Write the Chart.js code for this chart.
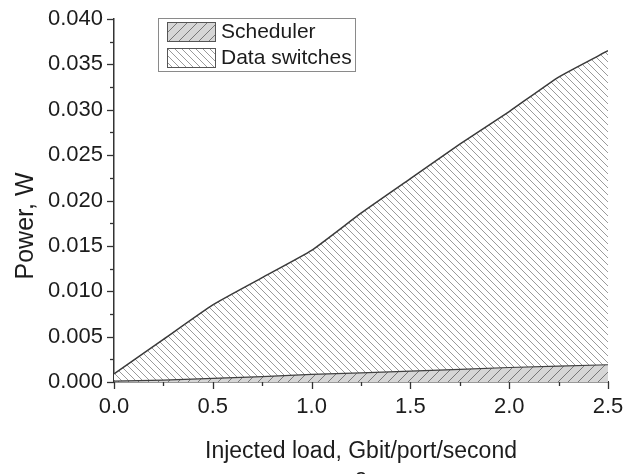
<!DOCTYPE html>
<html>
<head>
<meta charset="utf-8">
<script src="https://cdn.jsdelivr.net/npm/chart.js@4.4.1/dist/chart.umd.min.js"></script>
<style>
  html, body { margin: 0; padding: 0; background: #ffffff; }
  #wrap { width: 637px; height: 474px; }
</style>
</head>
<body>
<div id="wrap"><canvas id="chart" width="637" height="474"></canvas></div>
<script>
// Injected load (Gbit/port/second)
const loads = [0, 0.25, 0.5, 0.75, 1.0, 1.25, 1.5, 1.75, 2.0, 2.25, 2.5];
// Power drawn by the scheduler (W)
const schedulerPower = [0.0001, 0.0002, 0.0004, 0.0006, 0.00085, 0.0010, 0.0012, 0.0014, 0.0016, 0.00175, 0.0019];
// Power drawn by the data switches (W), stacked on top of the scheduler
const switchesPower = [0.0008, 0.0045, 0.0081, 0.0109, 0.01365, 0.0176, 0.0212, 0.0248, 0.0282, 0.03185, 0.0346];
const seriesNames = ['Scheduler', 'Data switches'];
const axisTitles = { x: 'Injected load, Gbit/port/second', y: 'Power, W' };

const FAMILY = '"Liberation Sans", Arial, Helvetica, sans-serif';
const INK = '#1c1c1c';

// Diagonal hatch tile: dir '/' or '\\'
function hatch(bg, fg, size, dir, lw) {
  const c = document.createElement('canvas');
  c.width = size; c.height = size;
  const g = c.getContext('2d');
  g.fillStyle = bg;
  g.fillRect(0, 0, size, size);
  g.strokeStyle = fg;
  g.lineWidth = lw;
  g.beginPath();
  for (const k of [-1, 0, 1]) {
    if (dir === '/') {
      g.moveTo(k * size, size); g.lineTo(k * size + size, 0);
    } else {
      g.moveTo(k * size, 0); g.lineTo(k * size + size, size);
    }
  }
  g.stroke();
  return g.createPattern(c, 'repeat');
}

const ctx = document.getElementById('chart').getContext('2d');
const schedulerFill = hatch('#d6d6d6', '#777777', 10, '/', 1);
const switchesFill = hatch('#ffffff', '#9a9a9a', 7, '\\', 1);

// Tick marks: long for labelled ticks, short for the unlabelled ones
const tickMarks = {
  id: 'tickMarks',
  afterDraw(chart) {
    const g = chart.ctx;
    g.save();
    g.strokeStyle = '#333';
    g.lineWidth = 1.3;
    const xs = chart.scales.x, ys = chart.scales.y;
    xs.ticks.forEach((t, i) => {
      const px = Math.round(xs.getPixelForValue(t.value)) + 0.5;
      const len = i % 2 === 0 ? 7 : 4;
      g.beginPath(); g.moveTo(px, xs.top); g.lineTo(px, xs.top + len); g.stroke();
    });
    ys.ticks.forEach((t, i) => {
      const py = Math.round(ys.getPixelForValue(t.value)) + 0.5;
      const len = i % 2 === 0 ? 7 : 4;
      g.beginPath(); g.moveTo(ys.right, py); g.lineTo(ys.right - len, py); g.stroke();
    });
    g.restore();
  }
};

// Vertical axis title, set a little below the middle of the axis
const yTitle = {
  id: 'yTitle',
  afterDraw(chart) {
    const g = chart.ctx;
    g.save();
    g.translate(26, 226);
    g.rotate(-Math.PI / 2);
    g.font = '25px ' + FAMILY;
    g.fillStyle = INK;
    g.textAlign = 'center';
    g.textBaseline = 'middle';
    g.fillText(axisTitles.y, 0, 0);
    g.restore();
  }
};

// Boxed legend inside the plot area, upper left
const boxedLegend = {
  id: 'boxedLegend',
  afterDraw(chart) {
    const g = chart.ctx;
    const a = chart.chartArea;
    const x0 = a.left + 44, y0 = a.top - 1, w = 197, h = 53;
    g.save();
    g.fillStyle = '#ffffff';
    g.fillRect(x0, y0, w, h);
    g.strokeStyle = '#8a8a8a';
    g.lineWidth = 1;
    g.strokeRect(x0 + 0.5, y0 + 0.5, w, h);
    g.font = '21px ' + FAMILY;
    g.textBaseline = 'middle';
    chart.data.datasets.forEach((ds, i) => {
      const sy = y0 + 4 + i * 26;
      g.fillStyle = ds.backgroundColor;
      g.fillRect(x0 + 9, sy, 48, 19);
      g.strokeStyle = '#555';
      g.strokeRect(x0 + 9.5, sy + 0.5, 48, 19);
      g.fillStyle = INK;
      g.fillText(ds.label, x0 + 63, sy + 10);
    });
    g.restore();
  }
};

// Panel letter under the axis title, running off the bottom edge
const panelLetter = {
  id: 'panelLetter',
  afterDraw(chart) {
    const g = chart.ctx;
    const a = chart.chartArea;
    g.save();
    g.font = '22px ' + FAMILY;
    g.fillStyle = INK;
    g.textAlign = 'center';
    g.textBaseline = 'alphabetic';
    g.fillText('a', (a.left + a.right) / 2, 484);
    g.restore();
  }
};

new Chart(ctx, {
  type: 'line',
  data: {
    datasets: [
      {
        label: seriesNames[0],
        data: loads.map((x, i) => ({ x, y: schedulerPower[i] })),
        fill: 'origin',
        backgroundColor: schedulerFill,
        borderColor: '#404040',
        borderWidth: 1.2,
        pointRadius: 0,
        tension: 0
      },
      {
        label: seriesNames[1],
        data: loads.map((x, i) => ({ x, y: switchesPower[i] })),
        fill: '-1',
        backgroundColor: switchesFill,
        borderColor: '#3a3a3a',
        borderWidth: 1.5,
        pointRadius: 0,
        tension: 0.15
      }
    ]
  },
  options: {
    responsive: false,
    animation: false,
    layout: { padding: { left: 0, right: 29, top: 19, bottom: 0 } },
    plugins: { legend: { display: false }, tooltip: { enabled: false } },
    scales: {
      x: {
        type: 'linear',
        min: 0,
        max: 2.5,
        grid: { display: false },
        border: { display: true, color: '#333', width: 1.5 },
        ticks: {
          stepSize: 0.25,
          autoSkip: false,
          maxRotation: 0,
          padding: 4,
          color: INK,
          font: { size: 22, family: FAMILY },
          callback: (v, i) => (i % 2 === 0 ? Number(v).toFixed(1) : '')
        },
        title: {
          display: true,
          text: axisTitles.x,
          color: INK,
          font: { size: 23, family: FAMILY },
          padding: { top: 0, bottom: 9 }
        },
        afterFit: (s) => { s.height = 92; }
      },
      y: {
        stacked: true,
        min: 0,
        max: 0.04,
        grid: { display: false },
        border: { display: true, color: '#333', width: 1.5 },
        ticks: {
          stepSize: 0.0025,
          autoSkip: false,
          padding: 3,
          color: INK,
          font: { size: 22, family: FAMILY },
          callback: (v, i) => (i % 2 === 0 ? Number(v).toFixed(3) : '')
        },
        afterFit: (s) => { s.width = 114; }
      }
    }
  },
  plugins: [tickMarks, yTitle, boxedLegend, panelLetter]
});
</script>
</body>
</html>
